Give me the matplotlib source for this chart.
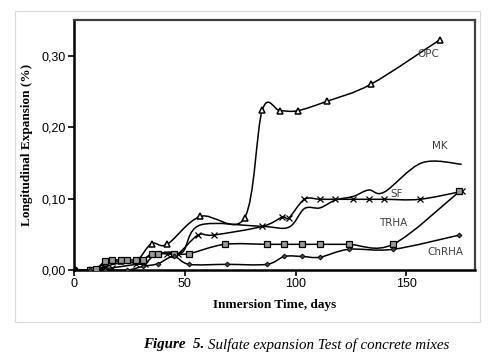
import numpy as np
import matplotlib
matplotlib.use("Agg")
import matplotlib.pyplot as plt
from matplotlib.path import Path
from matplotlib.patches import PathPatch, Rectangle

# data (days, expansion %)
opc_x = [0, 7, 10, 14, 21, 28, 35, 42, 57, 77, 85, 93, 101, 114, 134, 165]
opc_y = [0, 0, 0, 0.010, 0.012, 0.012, 0.037, 0.036, 0.075, 0.073, 0.224, 0.223, 0.223, 0.236, 0.260, 0.322]

mk_x = [0, 7, 10, 14, 21, 28, 35, 42, 49, 57, 85, 97, 104, 111, 118, 126, 133, 140, 157, 175]
mk_y = [0, 0, 0, 0.005, 0.010, 0.012, 0.020, 0.025, 0.025, 0.063, 0.061, 0.060, 0.086, 0.087, 0.098, 0.103, 0.112, 0.109, 0.150, 0.148]

sf_x = [0, 7, 10, 12, 14, 17, 28, 32, 37, 42, 47, 56, 63, 85, 94, 97, 104, 111, 118, 126, 133, 140, 156, 175]
sf_y = [0, 0, 0, 0.002, 0.003, 0.003, 0.008, 0.009, 0.023, 0.023, 0.023, 0.049, 0.049, 0.061, 0.074, 0.073, 0.099, 0.099, 0.099, 0.099, 0.099, 0.099, 0.099, 0.110]

trha_x = [0, 7, 10, 14, 17, 21, 24, 28, 31, 35, 38, 45, 52, 68, 87, 95, 103, 111, 124, 144, 174]
trha_y = [0, 0, 0.002, 0.012, 0.014, 0.014, 0.014, 0.014, 0.014, 0.023, 0.023, 0.023, 0.023, 0.036, 0.036, 0.036, 0.036, 0.036, 0.036, 0.036, 0.110]

chrha_x = [0, 7, 14, 24, 31, 38, 45, 52, 69, 87, 95, 103, 111, 124, 144, 174]
chrha_y = [0, 0, 0, 0, 0.005, 0.009, 0.019, 0.008, 0.008, 0.008, 0.019, 0.019, 0.018, 0.029, 0.029, 0.049]

labels = ["OPC", "MK", "SF", "TRHA", "ChRHA"]
label_pos = [(160, 0.303), (165, 0.174), (145.5, 0.107), (144, 0.066), (167.5, 0.025)]


def smooth_path(xs, ys):
    # excel style smoothed line: cubic bezier through the points
    p = np.column_stack([xs, ys]).astype(float)
    n = len(p)
    verts = [p[0]]
    codes = [Path.MOVETO]
    for i in range(n - 1):
        p0 = p[i - 1] if i > 0 else p[i]
        p3 = p[i + 2] if i + 2 < n else p[i + 1]
        c1 = p[i] + (p[i + 1] - p0) / 6.0
        c2 = p[i + 1] - (p3 - p[i]) / 6.0
        verts += [c1, c2, p[i + 1]]
        codes += [Path.CURVE4] * 3
    return Path(verts, codes)


fig = plt.figure(figsize=(5, 3.62), dpi=100)
ax = fig.add_axes([0.148, 0.254, 0.802, 0.691])

fig.patches.append(Rectangle((0.03, 0.11), 0.93, 0.86, transform=fig.transFigure,
                             fill=False, edgecolor="#d9d9d9", lw=0.8))

series = [
    (opc_x, opc_y, dict(marker="^", ms=4, mfc="white", mec="black", mew=1.1)),
    (mk_x, mk_y, None),
    (sf_x, sf_y, dict(marker="x", ms=4, mec="black", mew=0.9)),
    (trha_x, trha_y, dict(marker="s", ms=3.8, mfc="#999999", mec="black", mew=0.9)),
    (chrha_x, chrha_y, dict(marker="D", ms=2.5, mfc="#444444", mec="black", mew=0.6)),
]

for xs, ys, mk in series:
    ax.add_patch(PathPatch(smooth_path(xs, ys), fill=False, edgecolor="black", lw=1.1, zorder=3))
    if mk:
        ax.plot(xs[1:], ys[1:], ls="none", zorder=4, **mk)

# first point (all series start at origin)
ax.plot([0], [0], "o", color="black", ms=5, zorder=5)

for lab, (lx, ly) in zip(labels, label_pos):
    ax.text(lx, ly, lab, fontsize=7.5, color="#404040", family="DejaVu Sans", ha="center", va="center")

ax.set_xlim(0, 181)
ax.set_ylim(0, 0.35)
ax.set_xticks([0, 50, 100, 150])
ax.set_yticks([0, 0.1, 0.2, 0.3])
ax.set_yticklabels(["0,00", "0,10", "0,20", "0,30"])
ax.tick_params(labelsize=9, length=4, width=1.2, direction="out", pad=2)
for lab in ax.get_xticklabels() + ax.get_yticklabels():
    lab.set_family("Liberation Sans")

for s in ["left", "bottom"]:
    ax.spines[s].set_linewidth(1.8)
    ax.spines[s].set_color("black")
for s in ["top", "right"]:
    ax.spines[s].set_linewidth(1.6)
    ax.spines[s].set_color("#404040")

ax.set_xlabel("Inmersion Time, days", fontsize=9.5, fontweight="bold", family="Liberation Serif", labelpad=6)
ax.set_ylabel("Longitudinal Expansion (%)", fontsize=9.5, fontweight="bold", family="Liberation Serif", labelpad=6)

fig.text(0.286, 0.047, "Figure  5.", fontsize=10.8, fontweight="bold", style="italic",
         family="Liberation Serif", ha="left", va="center")
fig.text(0.415, 0.047, "Sulfate expansion Test of concrete mixes", fontsize=10.8, style="italic",
         family="Liberation Serif", ha="left", va="center")

fig.savefig("out.png", dpi=100)
